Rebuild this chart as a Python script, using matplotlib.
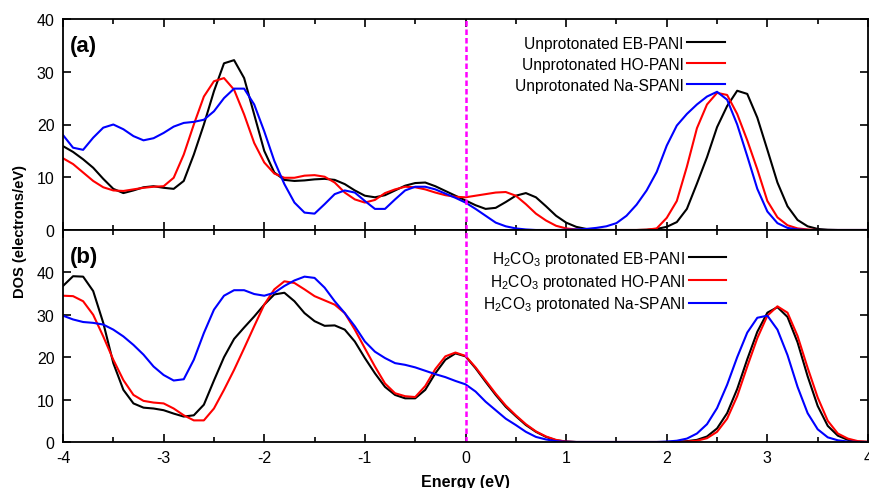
import numpy as np
import matplotlib
matplotlib.use("Agg")
import matplotlib.pyplot as plt
from matplotlib.ticker import MultipleLocator

plt.rcParams['font.family'] = ['Liberation Sans', 'DejaVu Sans']
plt.rcParams['mathtext.default'] = 'regular'
plt.rcParams['axes.unicode_minus'] = False

energy = np.linspace(-4, 4, 81)

# (a) unprotonated
eb_a = [15.9, 14.8, 13.4, 11.8, 9.7, 7.8, 7.0, 7.5, 8.1, 8.3,
        8.0, 7.8, 9.3, 14.3, 20.0, 26.3, 31.6, 32.2, 28.8, 21.9,
        15.0, 10.9, 9.5, 9.3, 9.4, 9.6, 9.7, 9.5, 8.7, 7.5,
        6.5, 6.2, 6.6, 7.5, 8.4, 8.9, 9.0, 8.3, 7.4, 6.5,
        5.6, 4.7, 4.0, 4.2, 5.3, 6.5, 7.0, 6.2, 4.5, 2.7,
        1.4, 0.6, 0.2, 0.05, 0, 0, 0, 0, 0.05, 0.2,
        0.6, 1.5, 4.0, 8.8, 13.8, 19.5, 23.5, 26.4, 25.8, 21.3,
        15.2, 9.0, 4.5, 1.9, 0.7, 0.2, 0.05, 0, 0, 0, 0]
ho_a = [13.6, 12.5, 10.9, 9.3, 8.1, 7.5, 7.4, 7.7, 8.0, 8.2,
        8.3, 9.9, 14.3, 20.0, 25.3, 28.2, 28.8, 26.6, 21.9, 16.5,
        12.8, 10.7, 9.9, 9.9, 10.3, 10.4, 10.1, 9.0, 7.1, 5.8,
        5.2, 5.7, 7.0, 7.7, 8.2, 8.1, 7.7, 7.1, 6.6, 6.3,
        6.2, 6.5, 6.8, 7.1, 7.2, 6.5, 4.9, 3.1, 1.8, 0.8,
        0.3, 0.1, 0, 0, 0, 0, 0, 0, 0.05, 0.3,
        2.3, 5.5, 12.0, 19.3, 23.8, 26.0, 25.6, 22.0, 17.0, 11.5,
        5.5, 2.4, 0.9, 0.3, 0.1, 0, 0, 0, 0, 0, 0]
na_a = [18.0, 15.6, 15.2, 17.5, 19.4, 20.0, 19.1, 17.8, 17.0, 17.4,
        18.4, 19.6, 20.3, 20.5, 20.9, 22.5, 25.0, 26.8, 26.8, 23.8,
        18.7, 13.1, 8.7, 5.2, 3.3, 3.1, 4.9, 6.8, 7.5, 7.1,
        5.5, 4.0, 4.0, 5.8, 7.5, 8.2, 8.2, 7.7, 6.9, 6.1,
        5.2, 4.0, 2.7, 1.4, 0.7, 0.3, 0.1, 0, 0, 0,
        0.05, 0.1, 0.2, 0.4, 0.7, 1.3, 2.7, 4.8, 7.5, 11.0,
        16.0, 19.8, 22.0, 23.8, 25.3, 26.2, 24.7, 20.0, 14.0, 7.8,
        3.5, 1.3, 0.4, 0.1, 0, 0, 0, 0, 0, 0, 0]

# (b) H2CO3 protonated
eb_b = [36.8, 39.1, 39.0, 35.6, 28.1, 18.6, 12.3, 9.1, 8.1, 7.9,
        7.5, 6.7, 6.0, 6.3, 8.8, 14.5, 20.0, 24.3, 27.0, 29.6,
        32.4, 34.8, 35.2, 33.2, 30.4, 28.5, 27.4, 27.5, 26.5, 23.7,
        19.8, 16.2, 13.0, 11.1, 10.3, 10.3, 12.3, 16.2, 19.4, 20.9,
        20.2, 17.4, 14.2, 11.1, 8.3, 6.1, 4.0, 2.4, 1.2, 0.4,
        0.1, 0, 0, 0, 0, 0, 0, 0, 0, 0,
        0, 0.05, 0.2, 0.5, 1.3, 3.2, 6.8, 12.5, 19.5, 26.0,
        30.5, 31.8, 29.5, 23.5, 15.5, 8.5, 3.8, 1.5, 0.5, 0.1, 0]
ho_b = [34.5, 34.4, 33.2, 30.0, 24.9, 19.4, 14.6, 11.1, 9.7, 9.3,
        9.1, 7.9, 6.3, 5.1, 5.1, 7.9, 12.3, 17.0, 22.1, 27.3,
        32.4, 36.0, 37.9, 37.5, 36.0, 34.4, 33.4, 32.4, 30.4, 26.5,
        22.1, 17.8, 13.8, 11.5, 10.8, 10.6, 13.2, 17.2, 20.2, 21.1,
        20.3, 17.6, 14.5, 11.4, 8.6, 6.3, 4.2, 2.5, 1.3, 0.5,
        0.1, 0, 0, 0, 0, 0, 0, 0, 0, 0,
        0, 0, 0.1, 0.3, 0.9, 2.4, 5.5, 10.8, 17.8, 24.5,
        29.8, 32.0, 30.5, 25.0, 17.5, 10.5, 5.0, 2.0, 0.8, 0.2, 0.05]
na_b = [29.8, 28.9, 28.3, 28.1, 27.7, 26.5, 24.9, 22.9, 20.6, 17.8,
        15.8, 14.5, 14.8, 19.4, 25.7, 31.2, 34.5, 35.8, 35.8, 34.9,
        34.5, 35.2, 36.8, 38.1, 39.0, 38.7, 36.4, 33.2, 30.4, 27.3,
        23.7, 21.3, 19.8, 18.6, 18.2, 17.6, 16.8, 16.0, 15.3, 14.4,
        13.6, 11.9, 9.5, 7.5, 5.5, 4.0, 2.4, 1.2, 0.6, 0.2,
        0.05, 0, 0, 0, 0, 0, 0, 0, 0, 0,
        0.1, 0.3, 0.8, 2.0, 4.2, 8.0, 13.5, 20.0, 25.8, 29.3,
        29.8, 26.5, 20.5, 13.0, 6.8, 3.0, 1.1, 0.4, 0.1, 0, 0]

labels_a = ['Unprotonated EB-PANI', 'Unprotonated HO-PANI', 'Unprotonated Na-SPANI']
labels_b = ['H$_2$CO$_3$ protonated EB-PANI', 'H$_2$CO$_3$ protonated HO-PANI',
            'H$_2$CO$_3$ protonated Na-SPANI']
colors = ['#000000', '#ff0000', '#0000ff']

fig = plt.figure(figsize=(8.7, 4.89), dpi=100)
ax1 = fig.add_axes([63/870, 1-231/489, 805/870, 211/489])
ax2 = fig.add_axes([63/870, 1-443/489, 805/870, 212/489], sharex=ax1)

for ax, series, labels in [(ax1, [eb_a, ho_a, na_a], labels_a),
                           (ax2, [eb_b, ho_b, na_b], labels_b)]:
    for y, c, lab in zip(series, colors, labels):
        ax.plot(energy, y, color=c, lw=1.5, label=lab)
    ax.axvline(0, color='#ff00ff', lw=1.8, ls=(0, (2.2, 1.2)))
    ax.set_xlim(-4, 4)
    ax.xaxis.set_major_locator(MultipleLocator(1))
    ax.xaxis.set_minor_locator(MultipleLocator(0.5))
    ax.tick_params(which='both', direction='in', top=True, right=True,
                   width=1.2, labelsize=11.5, pad=6)
    ax.tick_params(which='major', length=6)
    ax.tick_params(which='minor', length=3.5)
    for s in ax.spines.values():
        s.set_linewidth(1.3)

ax1.set_ylim(0, 40)
ax1.set_yticks([0, 10, 20, 30, 40])
ax1.tick_params(labelbottom=False)
ax2.set_ylim(0, 50)
ax2.set_yticks([0, 10, 20, 30, 40])

ax1.legend(loc='upper right', bbox_to_anchor=(0.822, 0.92), frameon=False,
           markerfirst=False, fontsize=11.2, handlelength=2.4, handletextpad=0.25,
           labelspacing=0.38, borderpad=0, borderaxespad=0)
ax2.legend(loc='upper right', bbox_to_anchor=(0.824, 0.912), frameon=False,
           markerfirst=False, fontsize=11.2, handlelength=2.4, handletextpad=0.25,
           labelspacing=0.25, borderpad=0, borderaxespad=0)

ax1.text(0.009, 0.925, '(a)', transform=ax1.transAxes, fontsize=16,
         fontweight='bold', va='top', ha='left')
ax2.text(0.009, 0.925, '(b)', transform=ax2.transAxes, fontsize=16,
         fontweight='bold', va='top', ha='left')

ax2.set_xlabel('Energy (eV)', fontsize=11.5, fontweight='bold', labelpad=6)
fig.text(20/870, 1-232/489, 'DOS (electrons/eV)', rotation=90, fontsize=10.5,
         fontweight='bold', ha='center', va='center')

fig.savefig('out.png', dpi=100)
